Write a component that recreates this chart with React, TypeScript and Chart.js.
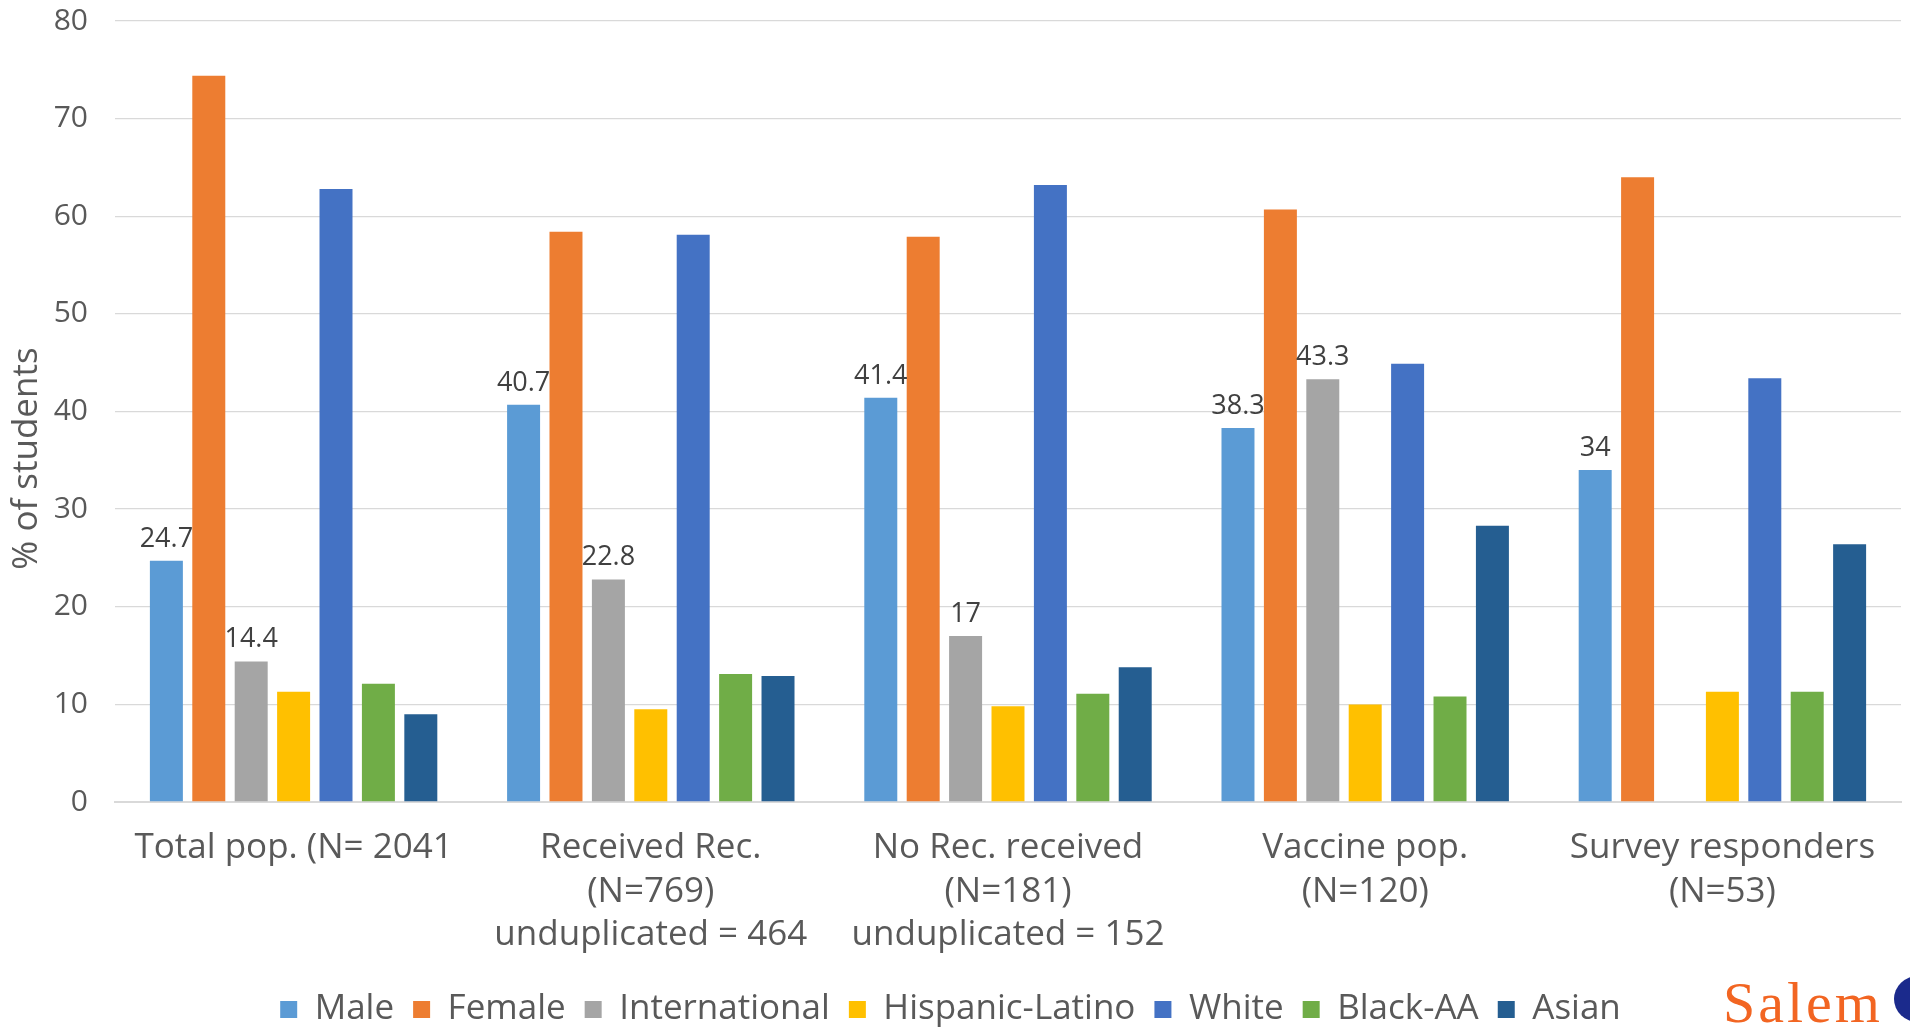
import React, { useEffect, useRef } from "react";
import { Chart, registerables } from "chart.js";

Chart.register(...registerables);

// Population groups shown along the x axis (multi-line labels)
const categories: (string | string[])[] = [
  "Total pop. (N= 2041",
  ["Received Rec.", "(N=769)", "unduplicated = 464"],
  ["No Rec. received", "(N=181)", "unduplicated = 152"],
  ["Vaccine pop.", "(N=120)"],
  ["Survey responders", "(N=53)"],
];

// Share of students (%) per group
const male = [24.7, 40.7, 41.4, 38.3, 34];
const female = [74.4, 58.4, 57.9, 60.7, 64.0];
const international: (number | null)[] = [14.4, 22.8, 17, 43.3, null];
const hispanicLatino = [11.3, 9.5, 9.8, 10.0, 11.3];
const white = [62.8, 58.1, 63.2, 44.9, 43.4];
const blackAA = [12.1, 13.1, 11.1, 10.8, 11.3];
const asian = [9.0, 12.9, 13.8, 28.3, 26.4];

const seriesNames = ["Male", "Female", "International", "Hispanic-Latino", "White", "Black-AA", "Asian"];
const seriesValues = [male, female, international, hispanicLatino, white, blackAA, asian];
const seriesColors = ["#5B9BD5", "#ED7D31", "#A5A5A5", "#FFC000", "#4472C4", "#70AD47", "#255E91"];

// Series that carry value labels above their bars
const labeledSeries = ["Male", "International"];

const yMin = 0;
const yMax = 80;
const yStep = 10;
const yTitle = "% of students";

const FONT = "'Open Sans', 'DejaVu Sans', sans-serif";
const TEXT = "#595959";

const valueLabels = {
  id: "valueLabels",
  afterDatasetsDraw(chart: any) {
    const ctx = chart.ctx;
    ctx.save();
    ctx.font = `27px ${FONT}`;
    ctx.fillStyle = "#404040";
    ctx.textAlign = "center";
    ctx.textBaseline = "alphabetic";
    chart.data.datasets.forEach((ds: any, di: number) => {
      if (!labeledSeries.includes(ds.label)) return;
      const meta = chart.getDatasetMeta(di);
      meta.data.forEach((bar: any, i: number) => {
        const v = ds.data[i];
        if (v === null || v === undefined) return;
        ctx.fillText(String(v), bar.x, bar.y - 14);
      });
    });
    ctx.restore();
  },
};

const axisTitle = {
  id: "axisTitle",
  afterDraw(chart: any) {
    const ctx = chart.ctx;
    const { top, bottom } = chart.chartArea;
    ctx.save();
    ctx.translate(27, (top + bottom) / 2 + 47);
    ctx.rotate(-Math.PI / 2);
    ctx.font = `35px ${FONT}`;
    ctx.fillStyle = TEXT;
    ctx.textAlign = "center";
    ctx.textBaseline = "middle";
    ctx.fillText(yTitle, 0, 0);
    ctx.restore();
  },
};

const legendOffset = {
  id: "legendOffset",
  afterLayout(chart: any) {
    const lg = chart.legend;
    if (lg) {
      lg.top += 8;
      lg.bottom += 8;
    }
  },
};

const logo = {
  id: "logo",
  afterDraw(chart: any) {
    const ctx = chart.ctx;
    const w = chart.width;
    const h = chart.height;
    ctx.save();
    ctx.fillStyle = "#F26522";
    ctx.font = `58px 'Liberation Serif', serif`;
    ctx.textAlign = "left";
    ctx.textBaseline = "alphabetic";
    try {
      (ctx as any).letterSpacing = "3px";
    } catch (e) {}
    ctx.fillText("Salem", w - 187, h - 7);
    ctx.fillStyle = "#1B2A8C";
    ctx.beginPath();
    ctx.ellipse(w + 8, h - 30, 24, 23, 0, 0, Math.PI * 2);
    ctx.fill();
    ctx.restore();
  },
};

export default function App() {
  const ref = useRef<HTMLCanvasElement | null>(null);

  useEffect(() => {
    if (!ref.current) return;
    const chart = new Chart(ref.current, {
      type: "bar",
      data: {
        labels: categories,
        datasets: seriesNames.map((name, i) => ({
          label: name,
          data: seriesValues[i],
          backgroundColor: seriesColors[i],
          borderWidth: 0,
          categoryPercentage: 0.831,
          barPercentage: 0.778,
        })),
      },
      options: {
        responsive: false,
        animation: false,
        layout: { padding: { top: 21, right: 9, left: 0, bottom: 0 } },
        plugins: {
          legend: {
            position: "bottom",
            labels: {
              font: { family: FONT, size: 35 },
              color: TEXT,
              boxWidth: 17,
              boxHeight: 17,
              padding: 19,
            },
          },
          tooltip: { enabled: false },
        },
        scales: {
          x: {
            grid: { display: false, drawTicks: false },
            border: { display: true, color: "#d9d9d9", width: 2 },
            ticks: {
              font: { family: FONT, size: 35, lineHeight: 1.25 },
              color: TEXT,
              padding: 24,
              maxRotation: 0,
              autoSkip: false,
            },
            afterFit(scale: any) {
              scale.height = 163;
              scale.paddingLeft = 0;
              scale.paddingRight = 0;
            },
          },
          y: {
            min: yMin,
            max: yMax,
            grid: { color: "#d9d9d9", lineWidth: 1.3, drawTicks: false },
            border: { display: false },
            ticks: {
              stepSize: yStep,
              font: { family: FONT, size: 30 },
              color: TEXT,
              padding: 27,
            },
            afterFit(scale: any) {
              scale.width = 115;
              scale.paddingTop = 0;
              scale.paddingBottom = 0;
            },
          },
        },
      },
      plugins: [valueLabels, axisTitle, legendOffset, logo],
    });
    return () => chart.destroy();
  }, []);

  return (
    <div style={{ position: "fixed", left: 0, top: 0, width: 1910, height: 1029, background: "#fff" }}>
      <canvas ref={ref} width={1910} height={1029} style={{ display: "block" }} />
    </div>
  );
}
